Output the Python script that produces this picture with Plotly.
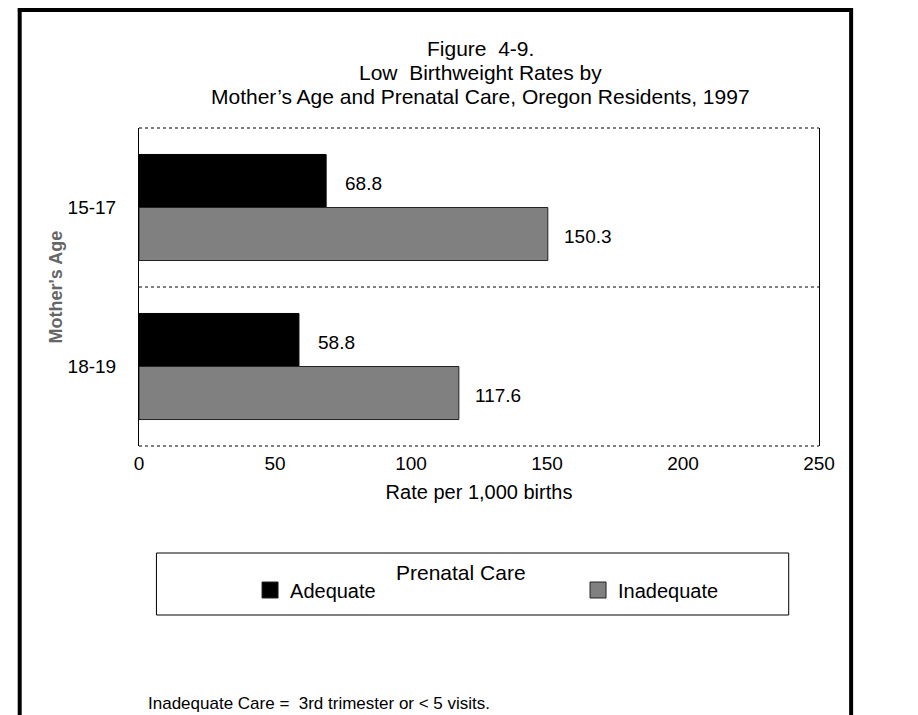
import plotly.graph_objects as go

# ---- data ----
ages = ["15-17", "18-19"]
adequate = [68.8, 58.8]
inadequate = [150.3, 117.6]
series_names = ["Adequate", "Inadequate"]
series_colors = ["#000000", "#808080"]
x_ticks = [0, 50, 100, 150, 200, 250]
title_lines = ["Figure  4-9.", "Low  Birthweight Rates by",
               "Mother\u2019s Age and Prenatal Care, Oregon Residents, 1997"]
footnote = "Inadequate Care =  3rd trimester or < 5 visits."

FONT = "Liberation Sans, Arial, sans-serif"
W, H = 918, 715
L, R, T, B = 139, 38, 128, 269
PW, PH = W - L - R, H - T - B


def px(xp):
    return (xp - L) / PW


def py(yp):
    return (H - B - yp) / PH


fig = go.Figure()
fig.add_bar(y=ages, x=adequate, orientation="h", name=series_names[0], showlegend=False,
            marker=dict(color=series_colors[0], line=dict(color="#000000", width=1)))
fig.add_bar(y=ages, x=inadequate, orientation="h", name=series_names[1], showlegend=False,
            marker=dict(color=series_colors[1], line=dict(color="#222222", width=1)))
# legend entries with larger square swatches
for name, col in zip(series_names, series_colors):
    fig.add_scatter(x=[None], y=[None], mode="markers", name=name,
                    marker=dict(symbol="square", size=16, color=col,
                                line=dict(color="#222222", width=1)))

annotations = []
for age, v in zip(ages, adequate):
    annotations.append(dict(x=v, y=age, xref="x", yref="y", text=f"{v:.1f}",
                            showarrow=False, xanchor="left", xshift=17, yshift=24,
                            font=dict(family=FONT, size=19, color="#000")))
for age, v in zip(ages, inadequate):
    annotations.append(dict(x=v, y=age, xref="x", yref="y", text=f"{v:.1f}",
                            showarrow=False, xanchor="left", xshift=14, yshift=-29,
                            font=dict(family=FONT, size=19, color="#000")))

for line, yp in zip(title_lines, [49, 72, 97]):
    annotations.append(dict(x=px(511), y=py(yp), xref="paper", yref="paper", text=line,
                            showarrow=False, xanchor="center", yanchor="middle",
                            font=dict(family=FONT, size=21, color="#000")))

annotations.append(dict(x=px(49), y=0.5, xref="paper", yref="paper", text="<b>Mother's Age</b>",
                        textangle=-90, showarrow=False, xanchor="center", yanchor="middle",
                        font=dict(family=FONT, size=18, color="#666666")))
annotations.append(dict(x=px(490), y=py(572), xref="paper", yref="paper", text="Prenatal Care",
                        showarrow=False, xanchor="center", yanchor="middle",
                        font=dict(family=FONT, size=21, color="#000")))
annotations.append(dict(x=px(147), y=py(703), xref="paper", yref="paper", text=footnote,
                        showarrow=False, xanchor="left", yanchor="middle",
                        font=dict(family=FONT, size=17, color="#000")))

shapes = [
    # outer frame (no bottom edge)
    dict(type="line", xref="paper", yref="paper", x0=px(9), x1=px(9), y0=py(8), y1=py(730),
         line=dict(color="#000", width=4)),
    dict(type="line", xref="paper", yref="paper", x0=px(915), x1=px(915), y0=py(8), y1=py(730),
         line=dict(color="#000", width=4)),
    dict(type="line", xref="paper", yref="paper", x0=px(7), x1=px(917), y0=py(10), y1=py(10),
         line=dict(color="#000", width=4)),
    # dotted top / bottom of plot area and category divider
    dict(type="line", xref="paper", yref="paper", x0=0, x1=1, y0=1, y1=1,
         line=dict(color="#000", width=1, dash="dot")),
    dict(type="line", xref="paper", yref="paper", x0=0, x1=1, y0=0, y1=0,
         line=dict(color="#000", width=1, dash="dot")),
    dict(type="line", xref="paper", yref="y", x0=0, x1=1, y0=0.5, y1=0.5,
         line=dict(color="#000", width=1, dash="dot")),
    # legend frame
    dict(type="rect", xref="paper", yref="paper", x0=px(158), x1=px(847), y0=py(615), y1=py(553),
         line=dict(color="#000", width=1), fillcolor="rgba(0,0,0,0)"),
]

fig.update_layout(
    width=W, height=H,
    margin=dict(l=L, r=R, t=T, b=B, pad=0),
    paper_bgcolor="white", plot_bgcolor="white",
    barmode="group", bargap=0.333, bargroupgap=0,
    font=dict(family=FONT, size=18, color="#000"),
    showlegend=True,
    legend=dict(orientation="h", x=px(260), xanchor="left", y=py(590), yanchor="middle",
                entrywidth=283, entrywidthmode="pixels", bgcolor="rgba(0,0,0,0)",
                borderwidth=0, font=dict(family=FONT, size=20, color="#000"),
                traceorder="normal"),
    xaxis=dict(range=[0, 250], tickvals=x_ticks, showgrid=False, zeroline=False,
               showline=False, ticks="", ticklabelstandoff=4,
               tickfont=dict(family=FONT, size=19, color="#000"),
               title=dict(text="Rate per 1,000 births", standoff=11,
                          font=dict(family=FONT, size=20, color="#000"))),
    yaxis=dict(autorange="reversed", showgrid=False, zeroline=False, showline=True,
               mirror=True, linecolor="#000", linewidth=1, ticks="", ticklabelstandoff=18,
               tickfont=dict(family=FONT, size=19, color="#000")),
    annotations=annotations,
    shapes=shapes,
)

fig.write_html("out.html", config={"displayModeBar": False},
               post_script="document.body.style.margin='0';document.body.style.overflow='hidden';")
